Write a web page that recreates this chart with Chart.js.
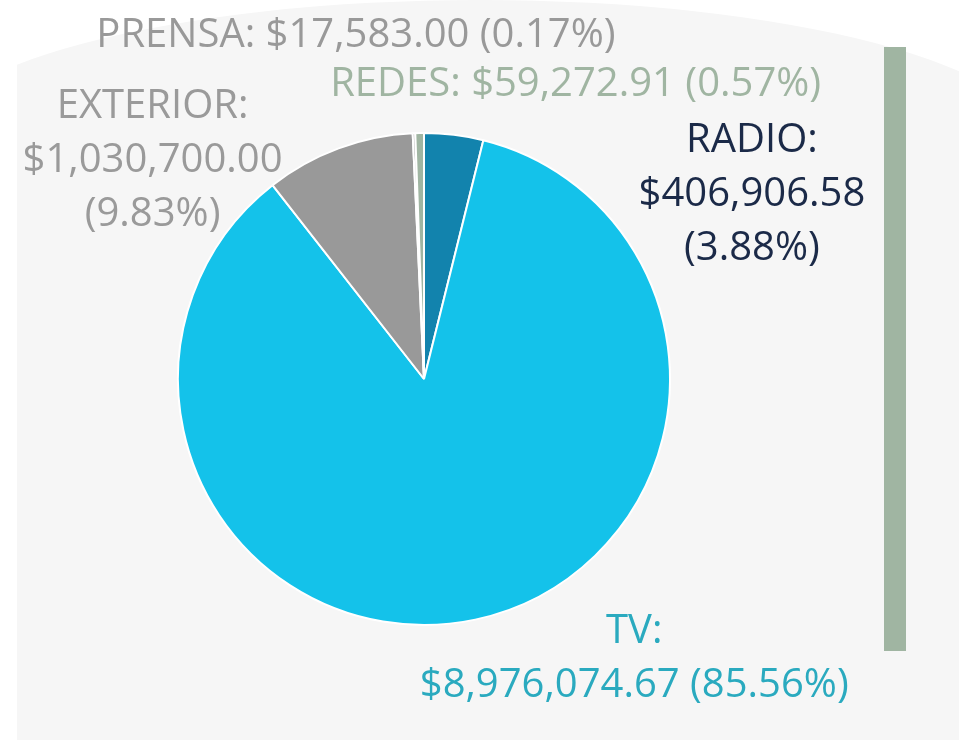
<!doctype html>
<html>

<head>
    <title>Inversión por medio</title>
    <script src="https://cdn.jsdelivr.net/npm/chart.js"></script>
    <style>
        html, body { margin: 0; padding: 0; background: #ffffff; }
        #caja { position: relative; width: 959px; height: 740px; overflow: hidden; }
        #barra { position: absolute; left: 884px; top: 47px; width: 22px; height: 604px; background: #a0b5a2; }
    </style>
</head>

<body>
    <div id="caja">
        <canvas id="medios" width="959" height="740"></canvas>
        <div id="barra"></div>
    </div>

    <script>
        // datos del grafico
        var medios = ['RADIO', 'TV', 'EXTERIOR', 'PRENSA', 'REDES'];
        var inversion = [406906.58, 8976074.67, 1030700.00, 17583.00, 59272.91];
        var porcentajes = ['3.88%', '85.56%', '9.83%', '0.17%', '0.57%'];

        var coloresSector = ['#1283ad', '#14c2ea', '#999999', '#9a9a9a', '#a0b5a2'];
        var coloresEtiqueta = ['#1b2a48', '#2aaabf', '#9a9a9a', '#999999', '#a0b5a2'];
        // como se parte cada etiqueta: 1 = una linea, 2 = nombre / resto, 3 = nombre / valor / porcentaje
        var lineasEtiqueta = [3, 2, 3, 1, 1];
        // desplazamiento de cada etiqueta respecto al borde del sector
        var desplazamiento = [[298, 60], [159, 39], [-186, 12], [-58, -98], [156, -48]];

        function dinero(v) {
            return '$' + v.toLocaleString('en-US', { minimumFractionDigits: 2, maximumFractionDigits: 2 });
        }

        var fondo = {
            id: 'fondo',
            beforeDraw: function (chart) {
                var ctx = chart.ctx;
                ctx.save();
                ctx.beginPath();
                ctx.rect(17, 0, 942, 740);
                ctx.clip();
                ctx.fillStyle = '#f6f6f6';
                ctx.beginPath();
                ctx.ellipse(480, 148, 560, 148, 0, Math.PI, 2 * Math.PI);
                ctx.rect(-100, 148, 1200, 600);
                ctx.fill();
                ctx.restore();
            }
        };

        var etiquetas = {
            id: 'etiquetas',
            afterDraw: function (chart) {
                var ctx = chart.ctx;
                var arcos = chart.getDatasetMeta(0).data;
                ctx.save();
                ctx.font = '40px "Open Sans"';
                ctx.textAlign = 'center';
                ctx.textBaseline = 'middle';
                arcos.forEach(function (arco, i) {
                    var medio = (arco.startAngle + arco.endAngle) / 2;
                    var x = arco.x + Math.cos(medio) * arco.outerRadius + desplazamiento[i][0];
                    var y = arco.y + Math.sin(medio) * arco.outerRadius + desplazamiento[i][1];
                    var nombre = medios[i] + ':';
                    var valor = dinero(inversion[i]);
                    var pct = '(' + porcentajes[i] + ')';
                    var lineas;
                    if (lineasEtiqueta[i] == 1) lineas = [nombre + ' ' + valor + ' ' + pct];
                    else if (lineasEtiqueta[i] == 2) lineas = [nombre, valor + ' ' + pct];
                    else lineas = [nombre, valor, pct];
                    var alto = 54;
                    var y0 = y - (lineas.length - 1) * alto / 2;
                    ctx.fillStyle = coloresEtiqueta[i];
                    lineas.forEach(function (l, k) {
                        ctx.fillText(l, x, y0 + k * alto);
                    });
                });
                ctx.restore();
            }
        };

        var grafico = new Chart(document.getElementById('medios').getContext('2d'), {
            type: 'pie',
            data: {
                labels: medios,
                datasets: [{
                    data: inversion,
                    backgroundColor: coloresSector,
                    borderColor: '#ffffff',
                    borderWidth: 2
                }]
            },
            options: {
                responsive: false,
                animation: false,
                layout: {
                    padding: { left: 177, right: 288, top: 132, bottom: 114 }
                },
                plugins: {
                    legend: { display: false },
                    tooltip: { enabled: false }
                }
            },
            plugins: [fondo, etiquetas]
        });
    </script>
</body>

</html>
